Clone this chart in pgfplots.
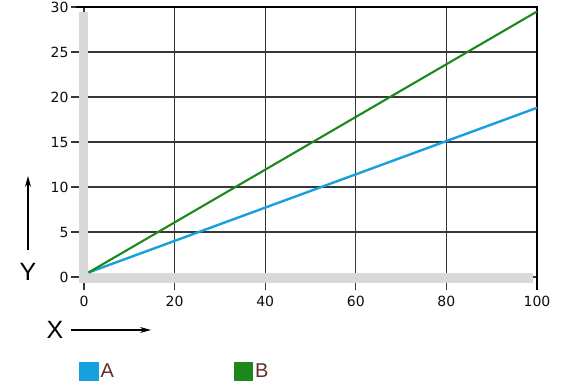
\documentclass[border=0pt]{standalone}
\usepackage{fontspec}
\setmainfont{Liberation Sans}
\newfontfamily\tickfont{DejaVu Sans}
\usepackage{pgfplots}
\pgfplotsset{compat=1.18}
\usetikzlibrary{arrows.meta}
\definecolor{lineA}{RGB}{22,160,222}
\definecolor{lineB}{RGB}{28,136,28}
\definecolor{barg}{RGB}{217,217,217}
\definecolor{legtxt}{RGB}{100,45,45}
\definecolor{gridc}{RGB}{55,55,55}
\begin{document}
\begin{tikzpicture}
\path[use as bounding box] (0pt,0pt) rectangle (570pt,383pt);
\begin{axis}[
  at={(84pt,106pt)}, anchor=south west,
  scale only axis, width=453pt, height=270pt,
  xmin=0, xmax=100, ymin=0, ymax=30,
  clip=false,
  xtick={0,20,...,100}, ytick={0,5,...,30},
  axis line style={draw=none},
  grid=major,
  major grid style={draw=gridc, line width=1.3pt},
  tick align=outside, tick pos=left,
  major tick length=13pt,
  tick style={draw=gridc, line width=1.2pt},
  ytick style={shorten >=5pt},
  /pgf/number format/assume math mode=true,
  tick label style={font=\tickfont\fontsize{14}{16}\selectfont, text=black!95},
  xticklabel style={yshift=-3pt},
  yticklabel style={xshift=1pt},
  legend columns=2,
  legend style={at={(-0.011,-0.35)}, anchor=west, draw=none, fill=none,
    inner sep=0pt, font=\fontsize{20}{22}\selectfont, text=legtxt,
    /tikz/every even column/.append style={column sep=118pt}},
  legend image code/.code={\fill[#1] (0pt,-8.5pt) rectangle (17pt,8.5pt);},
]
\fill[barg] (axis cs:-1.1,-0.67) rectangle (axis cs:0.88,29.4);
\fill[barg] (axis cs:-1.1,-0.67) rectangle (axis cs:99.1,0.44);
\draw[black, line width=2pt] (axis cs:-1.8,30) -- (axis cs:100,30) -- (axis cs:100,-1.45);
\addplot[color=lineA, line width=2.4pt] coordinates {(1,0.5) (100,18.8)};
\addlegendentry{A}
\addplot[color=lineB, line width=2.1pt] coordinates {(1,0.5) (100,29.5)};
\addlegendentry{B}
\end{axis}
\draw[black, line width=1.3pt, -{Stealth[length=11pt,width=6pt]}] (28pt,133pt) -- (28pt,207pt);
\node[font=\fontsize{25}{28}\selectfont] at (28pt,111pt) {Y};
\node[font=\fontsize{25}{28}\selectfont] at (55pt,53pt) {X};
\draw[black, line width=1.3pt, -{Stealth[length=11pt,width=6pt]}] (71pt,53pt) -- (151pt,53pt);
\end{tikzpicture}
\end{document}
